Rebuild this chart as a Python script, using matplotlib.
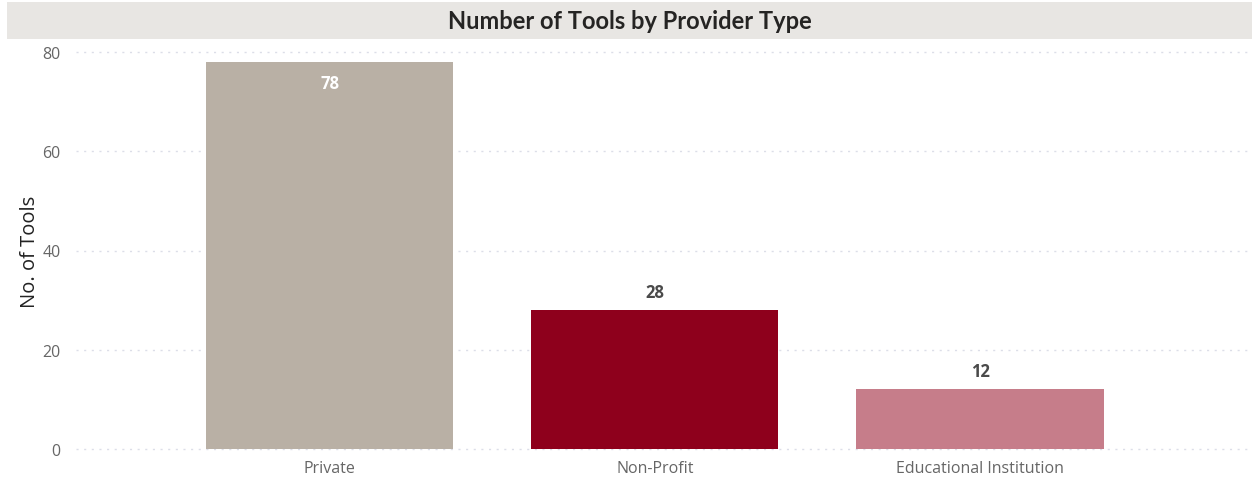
import matplotlib.pyplot as plt
import numpy as np

# data
providers = ["Private", "Non-Profit", "Educational Institution"]
n_tools = [78, 28, 12]
bar_colors = ["#B9B0A5", "#8E001C", "#C67D8A"]
y_ticks = [0, 20, 40, 60, 80]

plt.rcParams["font.family"] = ["Open Sans", "DejaVu Sans"]

fig = plt.figure(figsize=(12.52, 4.81), dpi=100)

# grey title band
band = fig.add_axes([7 / 1252, 1 - 40 / 481, 1245 / 1252, 37 / 481])
band.set_facecolor("#E8E6E3")
band.set_xticks([])
band.set_yticks([])
for s in band.spines.values():
    s.set_visible(False)
band.text(0.5, 0.5, "Number of Tools by Provider Type", ha="center", va="center",
          fontsize=17, fontweight="bold", color="#252423", family=["Lato", "DejaVu Sans"],
          transform=band.transAxes)

ax = fig.add_axes([76 / 1252, 31 / 481, 1174 / 1252, 397 / 481])
x = np.arange(len(providers))
bars = ax.bar(x, n_tools, width=0.76, color=bar_colors, zorder=3)

ax.set_xlim(-0.78, 2.83)
ax.set_ylim(0, 80)
ax.set_yticks(y_ticks)
ax.set_xticks(x)
ax.set_xticklabels(providers)
ax.tick_params(axis="both", length=0, labelsize=11.5, labelcolor="#666666")
ax.tick_params(axis="y", pad=11)
ax.tick_params(axis="x", pad=8)
for s in ax.spines.values():
    s.set_visible(False)
for yv in y_ticks:
    ax.axhline(yv, color="#DCDEE8", lw=1, ls=(0, (1.5, 4)), zorder=1, clip_on=False)

ax.set_ylabel("No. of Tools", fontsize=14.5, color="#222222", labelpad=2)

for xi, v in zip(x, n_tools):
    if v > 50:
        ax.text(xi, v - 4.2, str(v), ha="center", va="center", fontsize=12,
                fontweight="bold", color="white", zorder=4)
    else:
        ax.text(xi, v + 3.7, str(v), ha="center", va="center", fontsize=12,
                fontweight="bold", color="#4A4A4A", zorder=4)

fig.savefig("out.png", dpi=100)
